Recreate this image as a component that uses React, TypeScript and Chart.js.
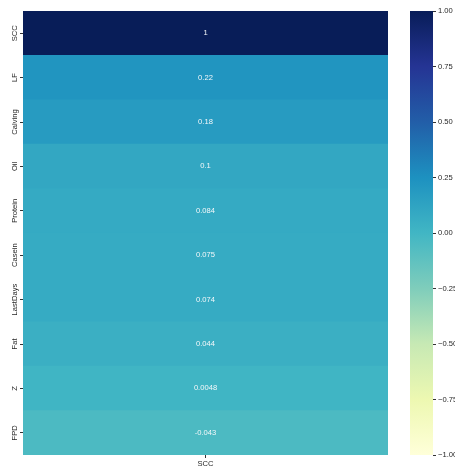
import React, { useEffect, useRef } from "react";
import { Chart, registerables } from "chart.js";

Chart.register(...registerables);

// Correlation of each variable with SCC
const rowLabels = ["SCC", "LF", "Calving", "Oil", "Protein", "Casein", "LastDays", "Fat", "Z", "FPD"];
const colLabels = ["SCC"];
const corrValues = [1, 0.22, 0.18, 0.1, 0.084, 0.075, 0.074, 0.044, 0.0048, -0.043];
const colorbarTicks = [-1, -0.75, -0.5, -0.25, 0, 0.25, 0.5, 0.75, 1];
const vMin = -1;
const vMax = 1;

// YlGnBu colormap anchor colours (low -> high)
const ylGnBu = ["#ffffd9", "#edf8b1", "#c7e9b4", "#7fcdbb", "#41b6c4", "#1d91c0", "#225ea8", "#253494", "#081d58"];

const FONT = { family: "'Liberation Sans', Arial, sans-serif", size: 7.6 };
const TEXT_COLOR = "#262626";

function hexToRgb(h: string): number[] {
  const n = parseInt(h.slice(1), 16);
  return [(n >> 16) & 255, (n >> 8) & 255, n & 255];
}

function colorFor(v: number): string {
  let t = (v - vMin) / (vMax - vMin);
  t = Math.max(0, Math.min(1, t));
  const pos = t * (ylGnBu.length - 1);
  const i = Math.min(ylGnBu.length - 2, Math.floor(pos));
  const f = pos - i;
  const a = hexToRgb(ylGnBu[i]);
  const b = hexToRgb(ylGnBu[i + 1]);
  const c = a.map((x, k) => Math.round(x + (b[k] - x) * f));
  return `rgb(${c[0]},${c[1]},${c[2]})`;
}

function fmtCell(v: number): string {
  return String(Number(v.toPrecision(2)));
}

function fmtBar(v: number): string {
  return v.toFixed(2).replace("-", "\u2212");
}

const cellLabelsPlugin = {
  id: "cellLabels",
  afterDatasetsDraw(chart: any) {
    const ctx = chart.ctx;
    const meta = chart.getDatasetMeta(0);
    ctx.save();
    ctx.font = `${FONT.size}px ${FONT.family}`;
    ctx.fillStyle = "#f4f8fa";
    ctx.textAlign = "center";
    ctx.textBaseline = "middle";
    meta.data.forEach((bar: any, i: number) => {
      const p = bar.getCenterPoint();
      ctx.fillText(fmtCell(corrValues[i]), p.x, p.y);
    });
    ctx.restore();
  },
};

const rowLabelsPlugin = {
  id: "rowLabels",
  afterDraw(chart: any) {
    const ctx = chart.ctx;
    const y = chart.scales.y;
    ctx.save();
    ctx.font = `${FONT.size}px ${FONT.family}`;
    ctx.fillStyle = TEXT_COLOR;
    ctx.textAlign = "center";
    ctx.textBaseline = "middle";
    rowLabels.forEach((lab, i) => {
      const py = y.getPixelForTick(i);
      ctx.save();
      ctx.translate(y.right - 8.5, py);
      ctx.rotate(-Math.PI / 2);
      ctx.fillText(lab, 0, 0);
      ctx.restore();
    });
    ctx.restore();
  },
};

const gradientPlugin = {
  id: "colorbarGradient",
  beforeDatasetsDraw(chart: any) {
    const ctx = chart.ctx;
    const area = chart.chartArea;
    const y = chart.scales.y;
    const y0 = y.getPixelForValue(vMin);
    const y1 = y.getPixelForValue(vMax);
    const g = ctx.createLinearGradient(0, y0, 0, y1);
    ylGnBu.forEach((c, i) => g.addColorStop(i / (ylGnBu.length - 1), c));
    ctx.save();
    ctx.fillStyle = g;
    ctx.fillRect(area.left, y1, area.right - area.left, y0 - y1);
    ctx.restore();
  },
};

export default function App() {
  const heatRef = useRef<HTMLCanvasElement>(null);
  const barRef = useRef<HTMLCanvasElement>(null);

  useEffect(() => {
    const heat = new Chart(heatRef.current as HTMLCanvasElement, {
      type: "bar",
      data: {
        labels: rowLabels,
        datasets: [
          {
            data: corrValues.map(() => [0, colLabels.length]) as any,
            backgroundColor: corrValues.map(colorFor),
            borderWidth: 0,
            barPercentage: 1,
            categoryPercentage: 1,
          },
        ],
      },
      options: {
        indexAxis: "y",
        responsive: false,
        animation: false,
        devicePixelRatio: 1,
        layout: { padding: { top: 11, right: 67, left: 0, bottom: 0 } },
        plugins: { legend: { display: false }, tooltip: { enabled: false } },
        scales: {
          x: {
            type: "linear",
            position: "bottom",
            min: 0,
            max: colLabels.length,
            afterBuildTicks: (s: any) => {
              s.ticks = colLabels.map((_, i) => ({ value: i + 0.5 }));
            },
            afterFit: (s: any) => {
              s.height = 13;
            },
            ticks: {
              callback: (v: any) => colLabels[Math.floor(Number(v))],
              font: FONT,
              color: TEXT_COLOR,
              padding: 1,
              maxRotation: 0,
              autoSkip: false,
            },
            grid: { drawOnChartArea: false, tickLength: 3, color: "#333" },
            border: { display: false },
          },
          y: {
            type: "category",
            afterFit: (s: any) => {
              s.width = 23;
            },
            ticks: { display: false },
            grid: { drawOnChartArea: false, tickLength: 3, offset: false, color: "#333" },
            border: { display: false },
          },
        },
      } as any,
      plugins: [cellLabelsPlugin, rowLabelsPlugin],
    });

    const bar = new Chart(barRef.current as HTMLCanvasElement, {
      type: "scatter",
      data: { datasets: [] },
      options: {
        responsive: false,
        animation: false,
        devicePixelRatio: 1,
        layout: { padding: { top: 11, right: 0, left: 0, bottom: 13 } },
        plugins: { legend: { display: false }, tooltip: { enabled: false } },
        scales: {
          x: { display: false, min: 0, max: 1 },
          y: {
            type: "linear",
            position: "right",
            min: vMin,
            max: vMax,
            afterBuildTicks: (s: any) => {
              s.ticks = colorbarTicks.map((v) => ({ value: v }));
            },
            afterFit: (s: any) => {
              s.width = 22;
            },
            ticks: {
              callback: (v: any) => fmtBar(Number(v)),
              font: FONT,
              color: TEXT_COLOR,
              padding: 2,
            },
            grid: { drawOnChartArea: false, tickLength: 3, color: "#333" },
            border: { display: false },
          },
        },
      } as any,
      plugins: [gradientPlugin],
    });

    return () => {
      heat.destroy();
      bar.destroy();
    };
  }, []);

  return (
    <div style={{ position: "absolute", left: 0, top: 0, width: 455, height: 468, background: "#fff", overflow: "hidden" }}>
      <canvas ref={heatRef} width={455} height={468} style={{ position: "absolute", left: 0, top: 0 }} />
      <canvas ref={barRef} width={45} height={468} style={{ position: "absolute", left: 410, top: 0 }} />
    </div>
  );
}
